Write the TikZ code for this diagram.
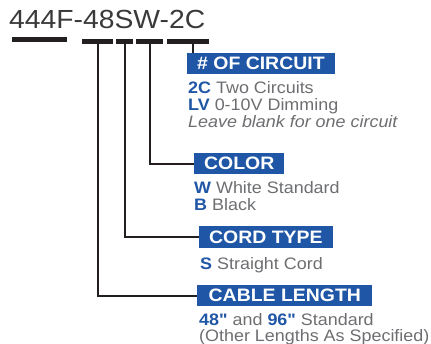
\documentclass[tikz,border=0pt]{standalone}
\usepackage{fontspec}
\setmainfont{Liberation Sans}[FakeStretch=1.08,Ligatures=TeXOff]
\usepackage{xcolor}
\usepackage{tikz}

\definecolor{codeblue}{HTML}{1F56A5}
\definecolor{descgray}{HTML}{6D6E71}
\definecolor{titlegray}{HTML}{3A3A3A}
\definecolor{leadblack}{HTML}{231F20}
\newcommand{\code}[1]{\textcolor{codeblue}{\textbf{#1}}}

\begin{document}
\begin{tikzpicture}[x=1pt,y=-1pt,
  bar/.style={rectangle,fill=leadblack,inner sep=0pt,minimum height=5pt},
  lead/.style={leadblack,line width=2pt},
  head/.style={fill=codeblue,text=white,font=\fontsize{18}{20}\selectfont\bfseries,
    inner xsep=10pt,inner ysep=0pt,minimum height=21.5pt,anchor=west},
  desc/.style={text=descgray,font=\fontsize{16.6}{18}\selectfont,inner sep=0pt,anchor=base west}]
  \useasboundingbox (0,0) rectangle (431,343);

  % part number and the bars under its fields
  \node[font=\fontsize{26.2}{28}\selectfont,text=titlegray,inner sep=0pt,anchor=base west] (partno) at (9,28.3) {444F-48SW-2C};
  \node[bar,minimum width=55pt] (bar1) at (39.3,39.8) {};
  \node[bar,minimum width=31pt] (bar2) at (97.5,41.5) {};
  \node[bar,minimum width=17pt] (bar3) at (124.5,41.5) {};
  \node[bar,minimum width=27pt] (bar4) at (149.5,41.5) {};
  \node[bar,minimum width=42pt] (bar5) at (188,41.5) {};

  % # of circuit
  \node[head] (circuit) at (187,63.5) {\# OF CIRCUIT};
  \node[desc] (circuit2c) at (188,93) {\code{2C} Two Circuits};
  \node[desc] (circuitlv) at (188,110.5) {\code{LV} 0-10V Dimming};
  \node[desc] (circuitnone) at (188,127) {\itshape Leave blank for one circuit};

  % color
  \node[head] (color) at (194,163.5) {COLOR};
  \node[desc] (colorw) at (194,193) {\code{W} White Standard};
  \node[desc] (colorb) at (194,210) {\code{B} Black};

  % cord type
  \node[head] (cord) at (199,237) {CORD TYPE};
  \node[desc] (cords) at (200,269) {\code{S} Straight Cord};

  % cable length
  \node[head,inner xsep=11.5pt] (cable) at (197,295.5) {CABLE LENGTH};
  \node[desc] (cablestd) at (199,325) {\code{48"} and \code{96"} Standard};
  \node[desc] (cableother) at (199,341) {(Other Lengths As Specified)};

  % leads from the bars to the headings
  \coordinate (circuitlead) at ([xshift=5pt]bar5.south);
  \draw[lead] (circuitlead) -- (circuitlead |- circuit.north);
  \draw[lead] (bar4.south) |- (color.west);
  \draw[lead] (bar3.south) |- (cord.west);
  \draw[lead] (bar2.south) |- (cable.west);
\end{tikzpicture}
\end{document}
